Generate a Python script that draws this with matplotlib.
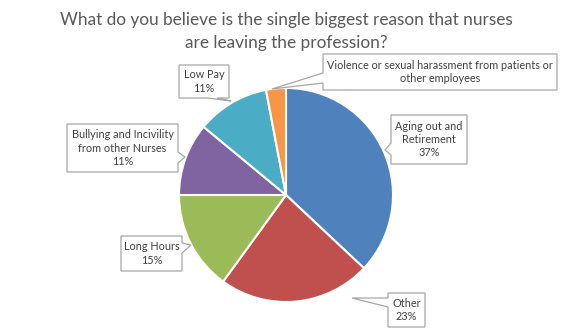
import matplotlib.pyplot as plt
from matplotlib.patches import Polygon

reasons = ['Aging out and\nRetirement', 'Other', 'Long Hours',
           'Bullying and Incivility\nfrom other Nurses', 'Low Pay',
           'Violence or sexual harassment from patients or\nother employees']
shares = [37, 23, 15, 11, 11, 3]
colors = ['#4F81BD', '#C0504D', '#9BBB59', '#8064A2', '#4BACC6', '#F79646']

H = 331
plt.rcParams['font.family'] = ['Lato', 'DejaVu Sans']

fig = plt.figure(figsize=(5.73, 3.31), dpi=100)
ax = fig.add_axes([0, 0, 1, 1])

cx, cy, r = 286, 195, 107
ax.pie(shares, colors=colors, startangle=90, counterclock=False,
       center=(cx, H - cy), radius=r, frame=True,
       wedgeprops=dict(edgecolor='white', linewidth=1.5))
ax.set_xlim(0, 573)
ax.set_ylim(0, H)
ax.axis('off')


def callout(box, side, p1, p2, tip, text):
    # box is (x0, y0, x1, y1) in pixel coords, y pointing down
    x0, y0, x1, y1 = box
    if side == 'left':
        pts = [(x0, y0), (x1, y0), (x1, y1), (x0, y1), (x0, p2), tip, (x0, p1)]
    elif side == 'right':
        pts = [(x0, y0), (x1, y0), (x1, p1), tip, (x1, p2), (x1, y1), (x0, y1)]
    else:  # bottom
        pts = [(x0, y0), (x1, y0), (x1, y1), (p2, y1), tip, (p1, y1), (x0, y1)]
    pts = [(x, H - y) for x, y in pts]
    ax.add_patch(Polygon(pts, closed=True, facecolor='white',
                         edgecolor='#A6A6A6', linewidth=0.9, zorder=3))
    ax.text((x0 + x1) / 2, H - (y0 + y1) / 2, text, ha='center', va='center',
            fontsize=7.8, color='#404040', linespacing=1.25, zorder=4)


labels = [f'{n}\n{v}%' for n, v in zip(reasons, shares)]
callout((391, 115, 467, 164), 'left', 143, 155, (385, 150), labels[0])
callout((388, 293, 425, 327), 'left', 298, 307, (352, 298), labels[1])
callout((121, 236, 182, 271), 'right', 243, 253, (191, 245), labels[2])
callout((67, 124, 178, 172), 'right', 152, 163, (185, 157), labels[3])
callout((179, 65, 229, 98), 'bottom', 208, 217, (231, 101), labels[4])
callout((323, 54, 557, 90), 'left', 73, 83, (272, 89), reasons[5])

title_lines = ['What do you believe is the single biggest reason that nurses',
               'are leaving the profession?']
for line, base in zip(title_lines, [25, 48]):
    ax.text(286, H - base, line, ha='center', va='baseline',
            fontsize=12.4, color='#595959')

fig.savefig('out.png', dpi=100)
